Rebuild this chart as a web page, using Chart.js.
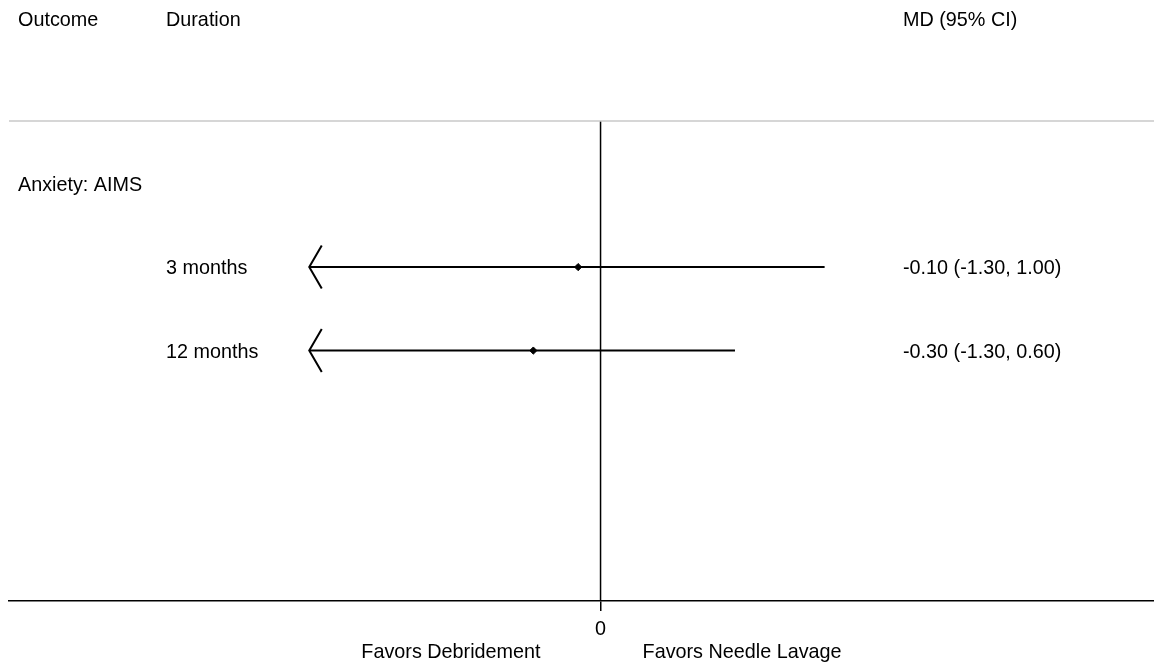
<!DOCTYPE html>
<html>
<head>
<meta charset="utf-8">
<script src="https://cdn.jsdelivr.net/npm/chart.js@4/dist/chart.umd.min.js"></script>
<style>
html,body{margin:0;padding:0;background:#fff;}
#wrap{width:1154px;height:667px;}
</style>
</head>
<body>
<div id="wrap"><canvas id="c" width="1154" height="667"></canvas></div>
<script>
// ---- data ----
const outcomes = ["Anxiety: AIMS"];
const durations = ["3 months", "12 months"];
const estimates = [-0.10, -0.30];
const lowerCI = [-1.30, -1.30];
const upperCI = [1.00, 0.60];
const ciLabels = ["-0.10 (-1.30, 1.00)", "-0.30 (-1.30, 0.60)"];
const headers = ["Outcome", "Duration", "MD (95% CI)"];
const xTicks = [0];
const favorsLeft = "Favors Debridement";
const favorsRight = "Favors Needle Lavage";
const clipLow = -1.30;      // lower display limit -> arrow
const rowOf = [1, 2];       // row index of each duration row (row 0 = outcome)

const FONT = "'Liberation Sans', Arial, Helvetica, sans-serif";
const FS = 19.8;
const DY = 1.5;

// datasets
const ciSets = estimates.map((e, i) => ({
  type: 'line',
  data: [{x: Math.max(lowerCI[i], clipLow), y: rowOf[i]}, {x: upperCI[i], y: rowOf[i]}],
  borderColor: '#000', borderWidth: 2, pointRadius: 0, fill: false, order: 2
}));
const pointSet = {
  type: 'scatter',
  data: estimates.map((e, i) => ({x: e, y: rowOf[i]})),
  pointStyle: 'rectRot', pointRadius: 3.6, backgroundColor: '#000', borderColor: '#000', borderWidth: 1, order: 0
};
const zeroLine = {
  type: 'line',
  data: [{x: 0, y: -0.75}, {x: 0, y: 5}],
  borderColor: '#000', borderWidth: 1.5, pointRadius: 0, fill: false, order: 3
};

const textPlugin = {
  id: 'forestText',
  afterDraw(chart) {
    const ctx = chart.ctx, xs = chart.scales.x, ys = chart.scales.y, ca = chart.chartArea;
    ctx.save();
    // top gray rule
    ctx.strokeStyle = '#c9c9c9'; ctx.lineWidth = 1.3;
    ctx.beginPath(); ctx.moveTo(ca.left, ys.getPixelForValue(-0.75)); ctx.lineTo(ca.right, ys.getPixelForValue(-0.75)); ctx.stroke();
    // arrows
    ctx.strokeStyle = '#000'; ctx.lineWidth = 2;
    lowerCI.forEach((l, i) => {
      if (l <= clipLow) {
        const px = xs.getPixelForValue(clipLow), py = ys.getPixelForValue(rowOf[i]);
        ctx.beginPath();
        ctx.moveTo(px + 12.5, py - 21.5); ctx.lineTo(px, py); ctx.lineTo(px + 12.5, py + 21.5);
        ctx.stroke();
      }
    });
    ctx.fillStyle = '#000';
    ctx.font = FS + 'px ' + FONT;
    ctx.textBaseline = 'middle';
    ctx.textAlign = 'left';
    // headers
    ctx.fillText(headers[0], 18, 19 + DY);
    ctx.fillText(headers[1], 166, 19 + DY);
    ctx.fillText(headers[2], 903, 19 + DY);
    // outcome
    ctx.fillText(outcomes[0], 18, ys.getPixelForValue(0) + DY);
    durations.forEach((d, i) => {
      const py = ys.getPixelForValue(rowOf[i]) + DY;
      ctx.fillText(d, 166, py);
      ctx.fillText(ciLabels[i], 903, py);
    });
    // favors labels
    const zx = xs.getPixelForValue(0);
    ctx.textAlign = 'right';
    ctx.fillText(favorsLeft, zx - 60, 653);
    ctx.textAlign = 'left';
    ctx.fillText(favorsRight, zx + 42, 653);
    ctx.restore();
  }
};

new Chart(document.getElementById('c'), {
  data: { datasets: [...ciSets, pointSet, zeroLine] },
  options: {
    responsive: false,
    animation: false,
    events: [],
    layout: { autoPadding: false, padding: { left: 9, top: 121, right: 0, bottom: 0 } },
    plugins: { legend: { display: false }, tooltip: { enabled: false } },
    scales: {
      x: {
        type: 'linear',
        min: -2.64, max: 2.47,
        afterBuildTicks: (s) => { s.ticks = xTicks.map(v => ({value: v})); },
        afterFit: (s) => { s.height = 66; },
        grid: { display: true, drawOnChartArea: false, drawTicks: true, tickLength: 10, color: '#000', lineWidth: 1.5 },
        border: { display: true, color: '#000', width: 1.5 },
        ticks: { color: '#000', font: { family: FONT, size: FS }, padding: 7, maxRotation: 0 }
      },
      y: {
        type: 'linear', display: false, reverse: true, min: -0.75, max: 5
      }
    }
  },
  plugins: [textPlugin]
});
</script>
</body>
</html>
